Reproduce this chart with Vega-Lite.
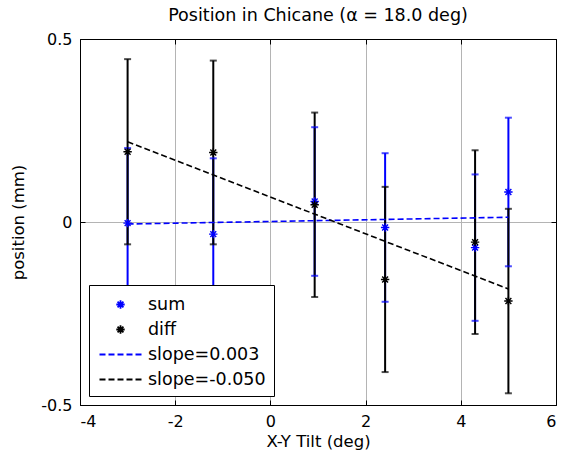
{
  "$schema": "https://vega.github.io/schema/vega-lite/v6.json",
  "width": 476,
  "height": 366,
  "autosize": {"type": "none"},
  "padding": {"left": 80, "top": 39, "right": 7, "bottom": 47},
  "background": "white",
  "title": {"text": "Position in Chicane (α = 18.0 deg)", "font": "DejaVu Sans", "fontSize": 17.5, "fontWeight": "normal", "color": "black", "offset": 7},
  "datasets": {
    "pts": [
      {"series": "sum", "x": -3.0, "y": -0.003, "lo": -0.208, "hi": 0.202},
      {"series": "sum", "x": -1.2, "y": -0.033, "lo": -0.240, "hi": 0.174},
      {"series": "sum", "x": 0.93, "y": 0.056, "lo": -0.147, "hi": 0.259},
      {"series": "sum", "x": 2.41, "y": -0.015, "lo": -0.218, "hi": 0.188},
      {"series": "sum", "x": 4.3, "y": -0.070, "lo": -0.270, "hi": 0.130},
      {"series": "sum", "x": 5.0, "y": 0.082, "lo": -0.121, "hi": 0.285},
      {"series": "diff", "x": -3.0, "y": 0.192, "lo": -0.061, "hi": 0.445},
      {"series": "diff", "x": -1.2, "y": 0.190, "lo": -0.061, "hi": 0.441},
      {"series": "diff", "x": 0.93, "y": 0.047, "lo": -0.205, "hi": 0.299},
      {"series": "diff", "x": 2.41, "y": -0.157, "lo": -0.410, "hi": 0.096},
      {"series": "diff", "x": 4.3, "y": -0.055, "lo": -0.306, "hi": 0.196},
      {"series": "diff", "x": 5.0, "y": -0.216, "lo": -0.468, "hi": 0.036}
    ],
    "fits": [
      {"series": "slope=0.003", "x": -3.0, "y": -0.0055},
      {"series": "slope=0.003", "x": 5.0, "y": 0.013},
      {"series": "slope=-0.050", "x": -3.0, "y": 0.219},
      {"series": "slope=-0.050", "x": 5.0, "y": -0.183}
    ]
  },
  "resolve": {"axis": {"x": "independent", "y": "independent"}},
  "layer": [
    {
      "data": {"name": "pts"},
      "mark": {"type": "rule", "strokeWidth": 2},
      "encoding": {
        "x": {"field": "x", "type": "quantitative", "scale": {"domain": [-4, 6], "nice": false, "zero": false}, "axis": {"values": [-4, -2, 0, 2, 4, 6], "grid": true, "title": "X-Y Tilt (deg)", "labelPadding": 13, "titlePadding": 4, "labelExpr": "'' + datum.value"}},
        "y": {"field": "lo", "type": "quantitative", "scale": {"domain": [-0.5, 0.5], "nice": false, "zero": false}, "axis": {"values": [-0.5, 0, 0.5], "grid": true, "title": "position (mm)", "labelPadding": 13, "titlePadding": 14, "labelExpr": "'' + datum.value"}},
        "y2": {"field": "hi"},
        "color": {"field": "series", "type": "nominal", "scale": {"domain": ["sum", "diff", "slope=0.003", "slope=-0.050"], "range": ["#0000ff", "#000000", "#0000ff", "#000000"]}, "legend": {"title": null, "orient": "bottom-left", "offset": 9}}
      }
    },
    {
      "data": {"name": "pts"},
      "mark": {"type": "tick", "orient": "horizontal", "size": 7, "thickness": 2},
      "encoding": {
        "x": {"field": "x", "type": "quantitative", "axis": null},
        "y": {"field": "lo", "type": "quantitative", "axis": null},
        "color": {"field": "series", "type": "nominal"}
      }
    },
    {
      "data": {"name": "pts"},
      "mark": {"type": "tick", "orient": "horizontal", "size": 7, "thickness": 2},
      "encoding": {
        "x": {"field": "x", "type": "quantitative", "axis": null},
        "y": {"field": "hi", "type": "quantitative", "axis": null},
        "color": {"field": "series", "type": "nominal"}
      }
    },
    {
      "data": {"name": "pts"},
      "mark": {"type": "point", "filled": false, "strokeWidth": 1.4, "size": 441, "opacity": 1},
      "encoding": {
        "x": {"field": "x", "type": "quantitative", "axis": null},
        "y": {"field": "y", "type": "quantitative", "axis": null},
        "color": {"field": "series", "type": "nominal"},
        "shape": {"field": "series", "type": "nominal", "scale": {"domain": ["sum", "diff", "slope=0.003", "slope=-0.050"], "range": ["M-0.4,0L0.4,0M0,-0.4L0,0.4M-0.28,-0.28L0.28,0.28M-0.28,0.28L0.28,-0.28", "M-0.4,0L0.4,0M0,-0.4L0,0.4M-0.28,-0.28L0.28,0.28M-0.28,0.28L0.28,-0.28", "M-2,0L2,0", "M-2,0L2,0"]}}
      }
    },
    {
      "data": {"name": "fits"},
      "mark": {"type": "line", "strokeWidth": 1.6},
      "encoding": {
        "x": {"field": "x", "type": "quantitative", "axis": {"orient": "top", "values": [-4, -2, 0, 2, 4, 6], "labels": false, "title": null, "grid": false}},
        "y": {"field": "y", "type": "quantitative", "axis": {"orient": "right", "values": [-0.5, 0, 0.5], "labels": false, "title": null, "grid": false}},
        "color": {"field": "series", "type": "nominal"},
        "strokeDash": {"field": "series", "type": "nominal", "scale": {"domain": ["sum", "diff", "slope=0.003", "slope=-0.050"], "range": [[1, 0], [1, 0], [6, 3], [6, 3]]}}
      }
    }
  ],
  "config": {
    "font": "DejaVu Sans",
    "view": {"stroke": "black", "strokeWidth": 1},
    "axis": {"labelFont": "DejaVu Sans", "labelFontSize": 16, "labelColor": "black", "titleFont": "DejaVu Sans", "titleFontSize": 16.5, "titleFontWeight": "normal", "titleColor": "black", "domainColor": "black", "tickColor": "black", "tickSize": -5, "gridColor": "#b4b4b4", "gridWidth": 1},
    "legend": {"labelFont": "DejaVu Sans", "labelFontSize": 17.5, "labelColor": "black", "strokeColor": "black", "fillColor": "white", "padding": 8, "symbolSize": 441, "symbolStrokeWidth": 1.8, "symbolOpacity": 1, "symbolOffset": 12, "labelOffset": 16, "rowPadding": 5, "cornerRadius": 0}
  }
}
